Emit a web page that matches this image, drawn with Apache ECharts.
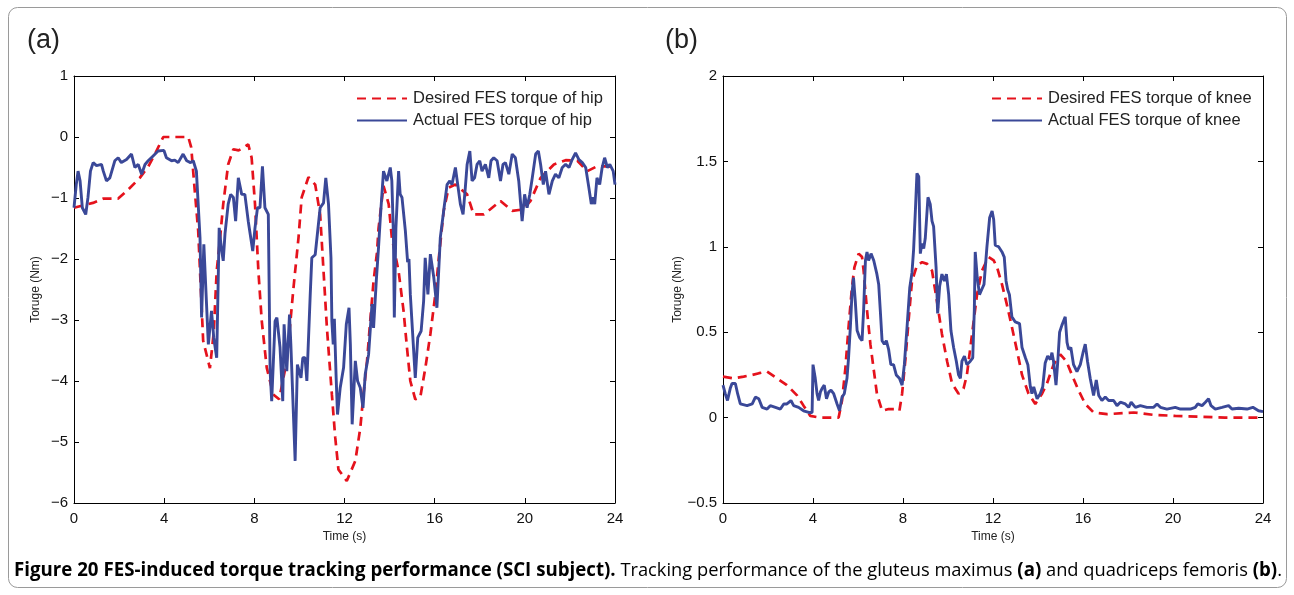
<!DOCTYPE html>
<html>
<head>
<meta charset="utf-8">
<script src="https://cdn.jsdelivr.net/npm/echarts@6/dist/echarts.min.js"></script>
<style>
html,body{margin:0;padding:0;background:#fff;}
#chart{width:1294px;height:595px;}
</style>
</head>
<body>
<div id="chart"></div>
<script>
// ---------- data ----------
const timeTicks = [0, 4, 8, 12, 16, 20, 24];
const seriesNamesA = ['Desired FES torque of hip', 'Actual FES torque of hip'];
const seriesNamesB = ['Desired FES torque of knee', 'Actual FES torque of knee'];

const hipDesired = [[0,-1.16],[0.84,-1.08],[1.3,-1.01],[1.96,-1.01],[2.33,-0.89],[2.92,-0.67],[3.3,-0.48],[3.59,-0.28],[3.96,0],[5.07,0],[5.2,-0.17],[5.36,-0.89],[5.51,-1.54],[5.73,-3.34],[6.03,-3.79],[6.2,-3.2],[6.33,-2.2],[6.47,-1.7],[6.62,-1.1],[6.84,-0.45],[7.07,-0.2],[7.3,-0.22],[7.5,-0.18],[7.73,-0.12],[7.88,-0.34],[8.03,-1.1],[8.18,-2.2],[8.33,-3.02],[8.55,-3.78],[8.84,-4.22],[9.1,-4.3],[9.44,-3.67],[9.73,-2.5],[9.96,-1.65],[10.1,-0.99],[10.4,-0.66],[10.7,-0.78],[10.92,-1.27],[11.07,-2.2],[11.22,-3.13],[11.44,-4.22],[11.59,-4.93],[11.73,-5.45],[12.1,-5.64],[12.48,-5.31],[12.7,-4.77],[12.84,-4.22],[13.0,-3.67],[13.14,-3.02],[13.29,-2.36],[13.44,-1.9],[13.51,-1.5],[13.73,-0.8],[13.96,-1.1],[14.1,-1.65],[14.4,-2.2],[14.62,-2.85],[14.77,-3.45],[14.92,-4.0],[15.14,-4.3],[15.36,-4.27],[15.59,-3.78],[15.81,-3.23],[16.03,-2.58],[16.18,-2.0],[16.4,-1.21],[16.62,-0.83],[16.92,-0.78],[17.44,-0.94],[17.73,-1.27],[18.18,-1.27],[18.92,-1.05],[19.44,-1.21],[19.88,-1.19],[20.25,-1.05],[20.7,-0.67],[21.29,-0.45],[21.81,-0.38],[22.33,-0.39],[22.77,-0.56],[23.2,-0.48],[23.64,-0.48],[24,-0.5]];

const hipActual = [[0,-1.16],[0.1,-0.78],[0.18,-0.56],[0.27,-0.72],[0.37,-1.16],[0.52,-1.27],[0.62,-0.99],[0.73,-0.56],[0.85,-0.42],[1.0,-0.47],[1.22,-0.45],[1.3,-0.56],[1.44,-0.72],[1.59,-0.67],[1.81,-0.39],[1.96,-0.34],[2.1,-0.42],[2.33,-0.37],[2.55,-0.28],[2.7,-0.5],[2.85,-0.45],[3.0,-0.61],[3.15,-0.45],[3.29,-0.39],[3.51,-0.31],[3.73,-0.23],[3.99,-0.22],[4.1,-0.34],[4.33,-0.39],[4.47,-0.38],[4.62,-0.42],[4.84,-0.28],[5.0,-0.39],[5.17,-0.42],[5.29,-0.39],[5.43,-0.56],[5.59,-1.65],[5.66,-2.96],[5.76,-1.76],[5.85,-2.5],[5.96,-3.4],[6.1,-2.85],[6.2,-3.29],[6.33,-3.62],[6.4,-2.3],[6.44,-1.49],[6.55,-1.86],[6.62,-2.03],[6.7,-1.58],[6.84,-1.1],[6.95,-0.94],[7.07,-0.99],[7.17,-1.38],[7.29,-0.67],[7.44,-0.94],[7.58,-0.94],[7.73,-1.38],[7.93,-1.87],[8.03,-1.49],[8.14,-1.16],[8.25,-1.16],[8.36,-0.48],[8.47,-1.16],[8.62,-1.27],[8.7,-3.84],[8.77,-4.33],[8.92,-3.02],[9.0,-2.96],[9.14,-3.45],[9.26,-4.33],[9.32,-3.07],[9.44,-3.84],[9.56,-2.91],[9.62,-3.4],[9.81,-5.31],[9.91,-3.73],[10.07,-3.95],[10.15,-3.62],[10.25,-3.62],[10.33,-4.0],[10.48,-2.58],[10.55,-1.98],[10.7,-1.93],[10.77,-1.9],[10.92,-1.16],[11.07,-1.08],[11.17,-0.67],[11.29,-1.1],[11.4,-1.98],[11.44,-3.02],[11.5,-3.4],[11.55,-2.98],[11.63,-3.95],[11.69,-4.55],[11.81,-4.11],[11.96,-3.78],[12.08,-3.07],[12.2,-2.8],[12.26,-3.4],[12.34,-4.71],[12.48,-3.67],[12.58,-4.0],[12.7,-4.11],[12.82,-4.44],[12.92,-3.89],[13.07,-3.56],[13.22,-2.74],[13.29,-3.13],[13.41,-2.36],[13.51,-1.81],[13.59,-1.32],[13.73,-0.56],[13.88,-0.72],[14.03,-0.5],[14.1,-0.72],[14.17,-1.6],[14.21,-2.96],[14.28,-1.5],[14.4,-0.56],[14.47,-0.94],[14.55,-0.99],[14.7,-1.54],[14.8,-2.05],[14.86,-2.0],[14.92,-2.58],[15.14,-3.95],[15.25,-3.29],[15.4,-3.18],[15.51,-2.69],[15.58,-1.98],[15.7,-2.58],[15.81,-1.92],[15.96,-2.3],[16.1,-2.8],[16.25,-1.65],[16.4,-1.21],[16.55,-0.78],[16.67,-0.72],[16.77,-0.78],[16.92,-0.5],[17.0,-0.72],[17.14,-1.1],[17.26,-1.27],[17.36,-0.83],[17.44,-0.45],[17.56,-0.23],[17.66,-0.72],[17.77,-0.67],[17.88,-0.45],[18.0,-0.39],[18.1,-0.56],[18.25,-0.45],[18.4,-0.67],[18.5,-0.39],[18.62,-0.34],[18.77,-0.39],[18.92,-0.72],[19.03,-0.45],[19.14,-0.42],[19.29,-0.61],[19.44,-0.28],[19.58,-0.34],[19.73,-0.72],[19.88,-1.38],[19.99,-0.94],[20.1,-1.16],[20.22,-0.94],[20.33,-0.67],[20.48,-0.28],[20.6,-0.23],[20.7,-0.45],[20.82,-0.78],[20.92,-0.56],[21.07,-0.94],[21.22,-0.72],[21.36,-0.61],[21.51,-0.67],[21.66,-0.5],[21.81,-0.45],[21.96,-0.5],[22.1,-0.37],[22.25,-0.26],[22.4,-0.37],[22.55,-0.42],[22.7,-0.5],[22.84,-0.83],[22.95,-1.1],[23.03,-0.99],[23.1,-1.1],[23.2,-0.67],[23.32,-0.78],[23.43,-0.5],[23.54,-0.34],[23.66,-0.5],[23.77,-0.45],[23.92,-0.56],[24,-0.78]];

const kneeDesired = [[0,0.24],[0.47,0.23],[0.92,0.24],[1.3,0.25],[1.6,0.26],[1.96,0.27],[2.4,0.23],[2.84,0.19],[3.29,0.13],[3.58,0.07],[3.88,0.01],[4.3,0],[4.7,0],[5.14,0],[5.29,0.1],[5.44,0.29],[5.58,0.53],[5.73,0.76],[5.84,0.88],[6.03,0.96],[6.18,0.94],[6.25,0.86],[6.4,0.63],[6.55,0.43],[6.69,0.29],[6.84,0.14],[7.07,0.04],[7.36,0.05],[7.66,0.05],[7.84,0.04],[7.96,0.14],[8.1,0.33],[8.25,0.57],[8.4,0.8],[8.62,0.89],[8.85,0.91],[9.07,0.9],[9.29,0.86],[9.51,0.68],[9.73,0.49],[9.96,0.33],[10.18,0.2],[10.47,0.14],[10.69,0.17],[10.84,0.25],[11.07,0.49],[11.29,0.72],[11.51,0.86],[11.8,0.94],[12.03,0.92],[12.18,0.88],[12.4,0.78],[12.62,0.66],[12.84,0.53],[13.07,0.39],[13.29,0.25],[13.58,0.14],[13.88,0.08],[14.18,0.14],[14.4,0.2],[14.69,0.31],[14.99,0.37],[15.26,0.33],[15.51,0.25],[15.8,0.16],[16.1,0.08],[16.47,0.03],[17.07,0.02],[18.25,0.03],[19.14,0.016],[20.1,0.01],[22.3,0.0],[24,0]];

const kneeActual = [[0,0.19],[0.1,0.14],[0.2,0.1],[0.32,0.17],[0.4,0.2],[0.55,0.2],[0.65,0.14],[0.77,0.08],[1.07,0.07],[1.3,0.08],[1.44,0.12],[1.59,0.11],[1.74,0.06],[1.96,0.05],[2.1,0.07],[2.33,0.06],[2.55,0.05],[2.7,0.08],[2.84,0.08],[3.02,0.1],[3.14,0.07],[3.36,0.06],[3.58,0.04],[3.81,0.03],[3.96,0.03],[4.0,0.31],[4.1,0.23],[4.18,0.14],[4.25,0.1],[4.33,0.15],[4.4,0.17],[4.5,0.19],[4.6,0.11],[4.7,0.15],[4.8,0.16],[4.92,0.14],[5.07,0.08],[5.18,0.04],[5.29,0.12],[5.39,0.14],[5.51,0.23],[5.58,0.35],[5.66,0.53],[5.73,0.72],[5.8,0.82],[5.88,0.68],[5.96,0.51],[6.07,0.47],[6.18,0.45],[6.25,0.63],[6.33,0.92],[6.4,0.97],[6.47,0.92],[6.58,0.96],[6.7,0.92],[6.84,0.84],[6.92,0.78],[6.99,0.63],[7.07,0.45],[7.17,0.43],[7.26,0.45],[7.36,0.4],[7.46,0.31],[7.58,0.31],[7.7,0.25],[7.84,0.23],[7.96,0.19],[8.06,0.31],[8.18,0.53],[8.3,0.76],[8.4,0.85],[8.47,0.98],[8.55,1.21],[8.62,1.43],[8.7,1.41],[8.77,0.96],[8.84,1.02],[8.92,0.99],[8.99,1.05],[9.11,1.29],[9.21,1.25],[9.29,1.15],[9.36,1.12],[9.47,0.88],[9.54,0.61],[9.63,0.77],[9.73,0.84],[9.84,0.8],[9.93,0.84],[10.03,0.72],[10.13,0.51],[10.25,0.41],[10.37,0.33],[10.47,0.25],[10.55,0.23],[10.62,0.33],[10.73,0.36],[10.84,0.31],[10.99,0.33],[11.1,0.35],[11.17,0.63],[11.21,0.97],[11.3,0.82],[11.4,0.72],[11.5,0.75],[11.6,0.78],[11.73,1.0],[11.85,1.17],[11.96,1.21],[12.03,1.16],[12.1,1.01],[12.25,1.0],[12.4,0.97],[12.5,0.94],[12.58,0.8],[12.65,0.75],[12.73,0.72],[12.84,0.59],[12.99,0.56],[13.18,0.55],[13.29,0.41],[13.44,0.35],[13.55,0.31],[13.66,0.18],[13.73,0.14],[13.81,0.18],[13.96,0.11],[14.1,0.14],[14.21,0.18],[14.32,0.32],[14.43,0.36],[14.55,0.34],[14.62,0.38],[14.69,0.33],[14.8,0.19],[14.88,0.33],[14.96,0.5],[15.06,0.54],[15.21,0.59],[15.29,0.44],[15.36,0.4],[15.46,0.41],[15.58,0.31],[15.73,0.27],[15.88,0.31],[16.0,0.38],[16.1,0.43],[16.2,0.33],[16.32,0.23],[16.47,0.13],[16.59,0.22],[16.7,0.13],[16.84,0.1],[16.99,0.12],[17.14,0.1],[17.36,0.1],[17.51,0.07],[17.66,0.09],[17.88,0.08],[18.03,0.06],[18.14,0.09],[18.33,0.06],[18.55,0.07],[18.84,0.06],[19.14,0.06],[19.29,0.08],[19.44,0.06],[19.73,0.05],[20.1,0.06],[20.33,0.05],[20.77,0.05],[20.99,0.06],[21.1,0.08],[21.29,0.07],[21.44,0.09],[21.58,0.11],[21.69,0.07],[21.88,0.05],[22.18,0.06],[22.47,0.07],[22.62,0.05],[22.92,0.055],[23.29,0.05],[23.55,0.06],[23.8,0.04],[24,0.035]];

// ---------- styling ----------
const RED = '#e5121c';
const BLUE = '#3a4898';
const narrow = '"Liberation Sans Narrow", "Liberation Sans", Arial, sans-serif';
const sans = '"Liberation Sans", Arial, sans-serif';
const capFont = '"Open Sans", "Liberation Sans", Arial, sans-serif';
const fmtNum = v => String(+v.toFixed(2)).replace('-', '\u2212');

function xAx(grid, top) {
  return {
    type: 'value', gridIndex: grid, min: 0, max: 24, interval: 4,
    position: top ? 'top' : 'bottom',
    name: top ? '' : 'Time (s)', nameLocation: 'middle', nameGap: 27,
    nameTextStyle: {fontFamily: narrow, fontSize: 12, color: '#222'},
    axisLine: {show: true, onZero: false, lineStyle: {color: '#000', width: 1}},
    axisTick: {show: true, inside: true, length: 5, lineStyle: {color: '#000', width: 1}},
    axisLabel: {show: !top, fontFamily: narrow, fontSize: 15, color: '#111', margin: 8, formatter: fmtNum},
    splitLine: {show: false}
  };
}
function yAx(grid, right, min, max, interval) {
  return {
    type: 'value', gridIndex: grid, min: min, max: max, interval: interval,
    position: right ? 'right' : 'left',
    name: right ? '' : 'Toruge (Nm)', nameLocation: 'middle', nameGap: 32, nameRotate: 90,
    nameTextStyle: {fontFamily: narrow, fontSize: 12, color: '#222'},
    axisLine: {show: true, onZero: false, lineStyle: {color: '#000', width: 1}},
    axisTick: {show: true, inside: true, length: 5, lineStyle: {color: '#000', width: 1}},
    axisLabel: {show: !right, fontFamily: narrow, fontSize: 15, color: '#111', margin: 6, formatter: fmtNum},
    splitLine: {show: false}
  };
}
function lineSeries(name, data, xi, yi, dashed) {
  return {
    name: name, type: 'line', xAxisIndex: xi, yAxisIndex: yi, data: data,
    showSymbol: false, symbol: 'none', smooth: false, animation: false,
    lineStyle: dashed ? {color: RED, width: 2.7, type: [9, 6]} : {color: BLUE, width: 2.9},
    itemStyle: {color: dashed ? RED : BLUE},
    z: dashed ? 2 : 3
  };
}
function legendFor(names, left) {
  return {
    data: names, orient: 'vertical', left: left, top: 90, padding: 0,
    itemWidth: 50, itemHeight: 14, itemGap: 5,
    textStyle: {fontFamily: sans, fontSize: 16.5, lineHeight: 16, color: '#222', padding: [0, 0, 0, 1]},
    itemStyle: {opacity: 0}, selectedMode: false
  };
}

const chart = echarts.init(document.getElementById('chart'), null, {renderer: 'canvas'});
chart.setOption({
  backgroundColor: '#fff',
  animation: false,
  grid: [
    {left: 74, top: 76, width: 541, height: 427},
    {left: 723, top: 76, width: 540, height: 427}
  ],
  xAxis: [xAx(0, false), xAx(0, true), xAx(1, false), xAx(1, true)],
  yAxis: [yAx(0, false, -6, 1, 1), yAx(0, true, -6, 1, 1), yAx(1, false, -0.5, 2, 0.5), yAx(1, true, -0.5, 2, 0.5)],
  legend: [legendFor(seriesNamesA, 356), legendFor(seriesNamesB, 991)],
  series: [
    lineSeries(seriesNamesA[0], hipDesired, 0, 0, true),
    lineSeries(seriesNamesA[1], hipActual, 0, 0, false),
    lineSeries(seriesNamesB[0], kneeDesired, 2, 2, true),
    lineSeries(seriesNamesB[1], kneeActual, 2, 2, false)
  ],
  graphic: [
    {type: 'rect', shape: {x: 8.5, y: 7.5, width: 1278, height: 580, r: 9}, style: {fill: 'none', stroke: '#9a9a9a', lineWidth: 1}, silent: true},
    {type: 'text', left: 27, top: 27, style: {text: '(a)', font: '27px ' + sans, fill: '#222'}},
    {type: 'text', left: 665, top: 27, style: {text: '(b)', font: '27px ' + sans, fill: '#222'}},
    {type: 'text', left: 14, top: 561, style: {
      text: '{b|Figure 20 FES-induced torque tracking performance (SCI subject).}{n| Tracking performance of the gluteus maximus }{b|(a)}{n| and quadriceps femoris }{b|(b)}{n|.}',
      rich: {
        b: {fontFamily: capFont, fontWeight: 'bold', fontSize: 18.7, color: '#111'},
        n: {fontFamily: capFont, fontSize: 18.3, color: '#222'}
      }
    }}
  ]
});
</script>
</body>
</html>
